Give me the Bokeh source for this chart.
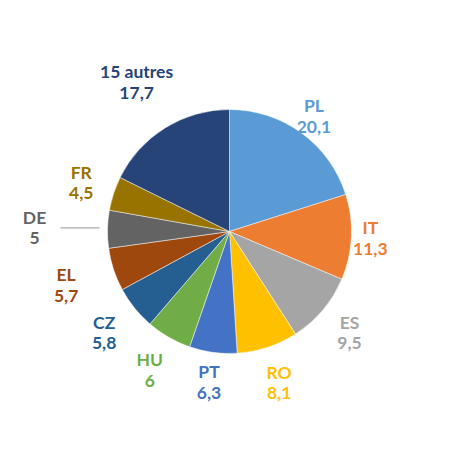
import math
from bokeh.plotting import figure
from bokeh.models import Range1d, ColumnDataSource
from bokeh.core.properties import value
from bokeh.embed import file_html
from bokeh.resources import INLINE

# ---- data ----
countries = ["PL", "IT", "ES", "RO", "PT", "HU", "CZ", "EL", "DE", "FR", "15 autres"]
shares = [20.1, 11.3, 9.5, 8.1, 6.3, 6.0, 5.8, 5.7, 5.0, 4.5, 17.7]
value_labels = ["20,1", "11,3", "9,5", "8,1", "6,3", "6", "5,8", "5,7", "5", "4,5", "17,7"]
colors = ["#5B9BD5", "#ED7D31", "#A5A5A5", "#FFC000", "#4472C4", "#70AD47",
          "#255E91", "#9E480E", "#636363", "#997300", "#264478"]

# ---- layout (styles, not data) ----
W, H = 444, 442
CX, CY, R = 229, 211, 122
label_r = [143, 141, 157, 159, 152, 160, 161, 172, 195, 156, 176]
FONT = value("Lato")

total = sum(shares)
starts, ends, mids = [], [], []
cum = 0.0
for s in shares:
    a0 = cum / total * 2 * math.pi          # clockwise from top
    a1 = (cum + s) / total * 2 * math.pi
    ends.append(math.pi / 2 - a0)
    starts.append(math.pi / 2 - a1)
    mids.append((a0 + a1) / 2)
    cum += s

lx = [CX + r * math.sin(m) for r, m in zip(label_r, mids)]
ly = [CY + r * math.cos(m) for r, m in zip(label_r, mids)]

src = ColumnDataSource(dict(start=starts, end=ends, color=colors,
                            name=countries, val=value_labels, lx=lx, ly=ly))

p = figure(width=W, height=H, output_backend="svg", toolbar_location=None,
           x_range=Range1d(0, W), y_range=Range1d(0, H), min_border=0)
p.axis.visible = False
p.grid.visible = False
p.outline_line_color = None
p.background_fill_color = "white"

p.wedge(x=CX, y=CY, radius=R, start_angle="start", end_angle="end",
        direction="anticlock", fill_color="color", line_color="white",
        line_width=0.6, line_alpha=0.8, source=src)

# leader line for DE
i_de = countries.index("DE")
p.line(x=[CX - R - 8, CX - label_r[i_de] + 26], y=[ly[i_de], ly[i_de]],
       line_color="#A6A6A6", line_width=1.3)

p.text(x="lx", y="ly", text="name", source=src, text_color="color",
       text_font=FONT, text_font_style="bold", text_font_size="17.5px",
       text_align="center", text_baseline="middle", y_offset=-10.5)
p.text(x="lx", y="ly", text="val", source=src, text_color="color",
       text_font=FONT, text_font_style="bold", text_font_size="17.5px",
       text_align="center", text_baseline="middle", y_offset=10.5)

open("out.html", "w").write(file_html(p, INLINE))
